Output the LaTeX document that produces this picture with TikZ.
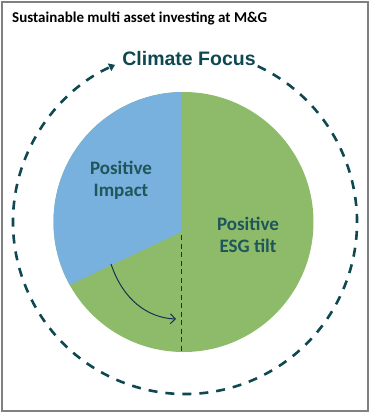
\documentclass[tikz,border=0pt]{standalone}
\usepackage{fontspec}
\setmainfont{Carlito}
\newfontfamily\arialfont{Liberation Sans}
\usetikzlibrary{arrows.meta}
\definecolor{piegreen}{RGB}{141,187,106}
\definecolor{pieblue}{RGB}{120,176,222}
\definecolor{tealdark}{RGB}{14,72,80}
\definecolor{textteal}{RGB}{30,86,90}
\definecolor{navy}{RGB}{22,48,78}
\begin{document}
\begin{tikzpicture}[x=1pt,y=1pt,
  labeltext/.style={text=textteal, font=\bfseries\fontsize{19}{22}\selectfont, align=center, inner sep=0pt},
  ringline/.style={tealdark, line width=2.6pt, dash pattern=on 9pt off 8pt},
  splitline/.style={navy, line width=1pt, dash pattern=on 5pt off 3.5pt},
  shiftarrow/.style={navy, line width=1pt, -{Straight Barb[length=5pt,width=10pt]}}]
\useasboundingbox (0,0) rectangle (370,-413);
\draw[black!50, line width=1.5pt] (2,-2) rectangle (368,-411);
\node[anchor=west, inner sep=0pt, font=\bfseries\fontsize{15}{17}\selectfont] (title) at (12,-18) {Sustainable multi asset investing at M\&G};
\coordinate (pc) at (183.5,-222);
\coordinate (rc) at (185,-222);
\fill[piegreen] (pc) circle[radius=130];
\begin{scope}
  \clip (pc) circle[radius=130];
  \fill[pieblue] (181,-232) -- (181,-80) -- (40,-80) -- (40,-299) -- cycle;
\end{scope}
\coordinate (vtop) at (181,-235);
\coordinate (vbot) at (181,-352);
\draw[splitline] (vtop) -- (vbot);
\coordinate (astart) at (111,-264);
\coordinate (aend) at (176,-319);
\draw[shiftarrow] (astart) .. controls (123,-300) and (148,-318) .. (aend);
\draw[ringline, -{Triangle[length=6pt,width=8pt]}] (rc) ++(65:172) arc[start angle=65, end angle=-246, radius=172];
\node[text=tealdark, inner sep=0pt, font=\arialfont\bfseries\fontsize{19.5}{22}\selectfont] (climate) at (189,-59) {Climate Focus};
\node[labeltext] (impact) at (121,-180) {Positive\\Impact};
\node[labeltext] (esg) at (248,-235) {Positive\\ESG tilt};
\end{tikzpicture}
\end{document}
